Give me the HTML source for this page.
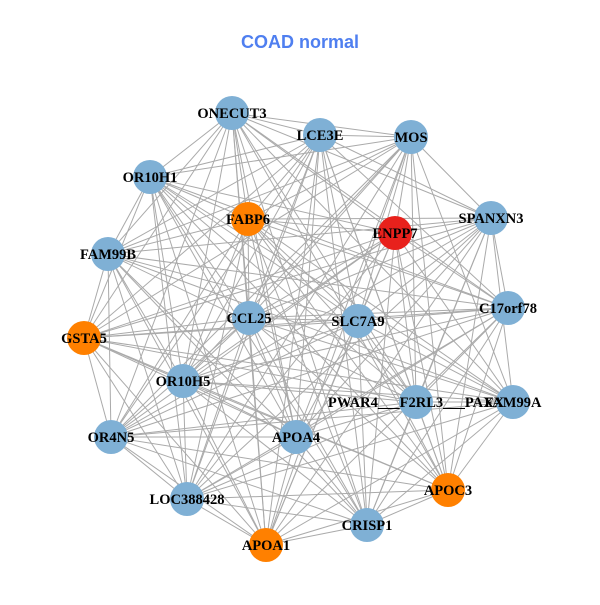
<!DOCTYPE html><html><head><style>body{margin:0;background:#fff}</style></head><body>
<svg id="s" width="600" height="600" xmlns="http://www.w3.org/2000/svg">
<text x="300" y="48" text-anchor="middle" font-family="Liberation Sans, sans-serif" font-weight="bold" font-size="18" fill="#4f7ff0">COAD normal</text>
<g id="e" stroke="#aaaaaa" stroke-width="1"></g><g id="n"></g><g id="t" font-family="Liberation Serif, serif" font-weight="bold" font-size="14.5" text-anchor="middle"></g>
</svg>
<script>
var N=[["ONECUT3",232,113,"#7fb0d5"],["LCE3E",320,135,"#7fb0d5"],["MOS",411,137,"#7fb0d5"],["OR10H1",150,177,"#7fb0d5"],["FABP6",248,219,"#ff8000"],["ENPP7",395,233,"#e8211c"],["SPANXN3",491,218,"#7fb0d5"],["FAM99B",108,254,"#7fb0d5"],["CCL25",249,318,"#7fb0d5"],["SLC7A9",358,321,"#7fb0d5"],["C17orf78",508,308,"#7fb0d5"],["GSTA5",84,338,"#ff8000"],["OR10H5",183,381,"#7fb0d5"],["PWAR4___F2RL3___PAXX",416,402,"#7fb0d5"],["FAM99A",513,402,"#7fb0d5"],["OR4N5",111,437,"#7fb0d5"],["APOA4",296,437,"#7fb0d5"],["APOC3",448,490,"#ff8000"],["LOC388428",187,499,"#7fb0d5"],["CRISP1",367,525,"#7fb0d5"],["APOA1",266,545,"#ff8000"]];
var ns="http://www.w3.org/2000/svg",e=document.getElementById("e"),g=document.getElementById("n"),t=document.getElementById("t");
for(var i=0;i<N.length;i++)for(var j=i+1;j<N.length;j++){if((i*7+j*13)%9==0)continue;var l=document.createElementNS(ns,"line");l.setAttribute("x1",N[i][1]);l.setAttribute("y1",N[i][2]);l.setAttribute("x2",N[j][1]);l.setAttribute("y2",N[j][2]);e.appendChild(l);}
N.forEach(function(d){var c=document.createElementNS(ns,"circle");c.setAttribute("cx",d[1]);c.setAttribute("cy",d[2]);c.setAttribute("r",17);c.setAttribute("fill",d[3]);g.appendChild(c);var x=document.createElementNS(ns,"text");x.setAttribute("x",d[1]);x.setAttribute("y",d[2]+5);x.textContent=d[0];t.appendChild(x);});
</script></body></html>
